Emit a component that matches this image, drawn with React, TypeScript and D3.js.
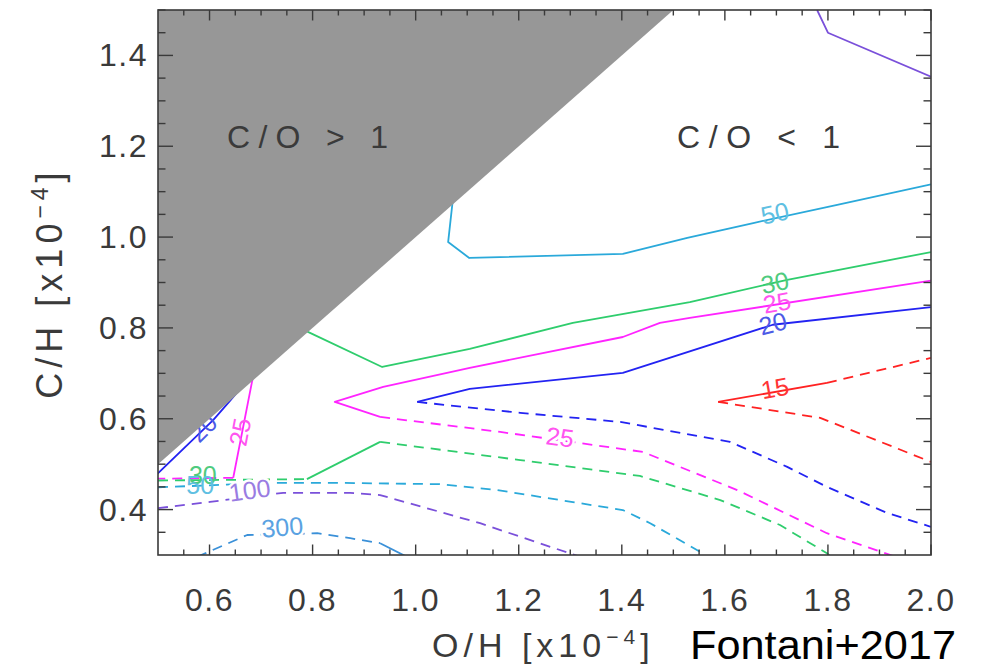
import React from "react";
import * as d3 from "d3";

type P = [number, number];

// ---- axes ----
const xDomain: P = [0.5, 2.0];
const yDomain: P = [0.3, 1.5];
const xTickValues = [0.6, 0.8, 1.0, 1.2, 1.4, 1.6, 1.8, 2.0];
const yTickValues = [0.4, 0.6, 0.8, 1.0, 1.2, 1.4];
const xTickLabels = ["0.6", "0.8", "1.0", "1.2", "1.4", "1.6", "1.8", "2.0"];
const yTickLabels = ["0.4", "0.6", "0.8", "1.0", "1.2", "1.4"];

// ---- C/O > 1 region (C/H > O/H) ----
const grayRegion: P[] = [[0.5, 0.5], [1.5, 1.5], [0.5, 1.5]];

// ---- contour lines (O/H, C/H) ----
const purple100Solid: P[] = [[1.779, 1.5], [1.8, 1.45], [2.0, 1.353]];
const cyan50Solid: P[] = [[1.075, 1.1], [1.071, 1.071], [1.063, 0.989], [1.104, 0.954], [1.402, 0.963], [1.527, 0.998], [1.655, 1.031], [1.818, 1.071], [2.0, 1.116]];
const green30Upper: P[] = [[0.775, 0.8], [0.795, 0.789], [0.935, 0.714], [1.105, 0.754], [1.305, 0.811], [1.532, 0.857], [1.721, 0.906], [2.0, 0.967]];
const magenta25Upper: P[] = [[0.931, 0.604], [0.843, 0.637], [0.937, 0.67], [1.105, 0.712], [1.402, 0.78], [1.474, 0.811], [1.532, 0.822], [2.0, 0.904]];
const blue20Right: P[] = [[1.003, 0.637], [1.105, 0.666], [1.402, 0.701], [1.693, 0.807], [2.0, 0.846]];
const blue20Left: P[] = [[0.498, 0.478], [0.607, 0.597], [0.64, 0.64], [0.7, 0.72]];
const magenta25LeftSolid: P[] = [[0.69, 0.72], [0.682, 0.679], [0.646, 0.47]];
const magenta25LeftDashed: P[] = [[0.646, 0.47], [0.5, 0.468]];
const green30LowerDashedLeft: P[] = [[0.5, 0.464], [0.789, 0.467]];
const green30LowerSolid: P[] = [[0.789, 0.467], [0.931, 0.549]];
const green30LowerDashedRight: P[] = [[0.931, 0.549], [1.203, 0.509], [1.435, 0.474], [1.591, 0.421], [1.707, 0.366], [1.798, 0.304], [1.806, 0.296]];
const magenta25Dashed: P[] = [[0.931, 0.604], [1.164, 0.571], [1.441, 0.527], [1.624, 0.443], [1.798, 0.348], [1.926, 0.298]];
const blue20Dashed: P[] = [[1.003, 0.637], [1.203, 0.613], [1.397, 0.593], [1.61, 0.549], [1.721, 0.494], [1.798, 0.45], [1.914, 0.393], [2.0, 0.362]];
const red15Solid: P[] = [[1.587, 0.637], [1.798, 0.679]];
const red15DashedUpper: P[] = [[1.798, 0.679], [2.0, 0.734]];
const red15DashedLower: P[] = [[1.587, 0.637], [1.785, 0.602], [2.0, 0.505]];
const cyan50Dashed: P[] = [[0.5, 0.449], [0.723, 0.459], [0.834, 0.459], [1.047, 0.456], [1.158, 0.443], [1.402, 0.399], [1.455, 0.37], [1.552, 0.307], [1.562, 0.296]];
const purple100Dashed: P[] = [[0.5, 0.403], [0.601, 0.417], [0.743, 0.437], [0.873, 0.437], [0.931, 0.432], [1.125, 0.37], [1.319, 0.296]];
const steel300Dashed: P[] = [[0.576, 0.296], [0.673, 0.344], [0.809, 0.348], [0.873, 0.337], [0.931, 0.326]];
const steel300Solid: P[] = [[0.931, 0.326], [0.983, 0.296]];

// ---- contour labels ----
const labelTexts = ["50", "30", "25", "20", "15", "25", "25", "20", "30", "50", "100", "300"];
const labelPositions: P[] = [[1.697, 1.053], [1.697, 0.9], [1.701, 0.856], [1.693, 0.81], [1.697, 0.668], [1.28, 0.56], [0.659, 0.571], [0.587, 0.58], [0.587, 0.476], [0.582, 0.454], [0.678, 0.443], [0.741, 0.362]];

const COL = {
  blue: "#2323f2",
  magenta: "#ff24ff",
  green: "#2fcd6d",
  cyan: "#2aa9da",
  purple: "#7a50da",
  steel: "#3a90d8",
  red: "#ff2222",
};
const LCOL = {
  blue: "#4d5ae6",
  magenta: "#ff55f0",
  green: "#4fcb7e",
  cyan: "#5fc0e2",
  purple: "#9a7ce2",
  steel: "#5aa2e2",
  red: "#ff3535",
};

const contours: { pts: P[]; color: string; dashed: boolean }[] = [
  { pts: purple100Solid, color: COL.purple, dashed: false },
  { pts: cyan50Solid, color: COL.cyan, dashed: false },
  { pts: green30Upper, color: COL.green, dashed: false },
  { pts: magenta25Upper, color: COL.magenta, dashed: false },
  { pts: blue20Right, color: COL.blue, dashed: false },
  { pts: blue20Left, color: COL.blue, dashed: false },
  { pts: magenta25LeftSolid, color: COL.magenta, dashed: false },
  { pts: magenta25LeftDashed, color: COL.magenta, dashed: true },
  { pts: green30LowerDashedLeft, color: COL.green, dashed: true },
  { pts: green30LowerSolid, color: COL.green, dashed: false },
  { pts: green30LowerDashedRight, color: COL.green, dashed: true },
  { pts: magenta25Dashed, color: COL.magenta, dashed: true },
  { pts: blue20Dashed, color: COL.blue, dashed: true },
  { pts: red15Solid, color: COL.red, dashed: false },
  { pts: red15DashedUpper, color: COL.red, dashed: true },
  { pts: red15DashedLower, color: COL.red, dashed: true },
  { pts: cyan50Dashed, color: COL.cyan, dashed: true },
  { pts: purple100Dashed, color: COL.purple, dashed: true },
  { pts: steel300Dashed, color: COL.steel, dashed: true },
  { pts: steel300Solid, color: COL.steel, dashed: false },
];

const labelStyles = [
  { color: LCOL.cyan, rot: -12, halo: false },
  { color: LCOL.green, rot: -12, halo: false },
  { color: LCOL.magenta, rot: -10, halo: false },
  { color: LCOL.blue, rot: -14, halo: false },
  { color: LCOL.red, rot: -10, halo: false },
  { color: LCOL.magenta, rot: 8, halo: true },
  { color: LCOL.magenta, rot: -79, halo: false },
  { color: LCOL.blue, rot: -45, halo: false },
  { color: LCOL.green, rot: 0, halo: false },
  { color: LCOL.cyan, rot: 0, halo: false },
  { color: LCOL.purple, rot: -8, halo: true },
  { color: LCOL.steel, rot: -5, halo: true },
];

const AX = "#3a3a3a";
const FONT = "'Liberation Sans', Arial, sans-serif";

export default function App() {
  const left = 158, right = 931, top = 10, bottom = 555;
  const x = d3.scaleLinear().domain(xDomain).range([left, right]);
  const y = d3.scaleLinear().domain(yDomain).range([bottom, top]);
  const line = d3.line<P>().x((d) => x(d[0])).y((d) => y(d[1]));

  const xMinor = d3.range(0.55, 2.0001, 0.05);
  const yMinor = d3.range(0.35, 1.5001, 0.05);
  const isMajor = (v: number) => Math.abs(v * 5 - Math.round(v * 5)) < 1e-6;

  return (
    <svg width={982} height={669} style={{ position: "absolute", left: 0, top: 0, background: "#fff" }}>
      <defs>
        <clipPath id="plotClip">
          <rect x={left} y={top} width={right - left} height={bottom - top} />
        </clipPath>
      </defs>
      <rect x={0} y={0} width={982} height={669} fill="#fff" />
      <g clipPath="url(#plotClip)">
        {contours.map((c, i) => (
          <path
            key={i}
            d={line(c.pts) || ""}
            fill="none"
            stroke={c.color}
            strokeWidth={1.8}
            strokeDasharray={c.dashed ? "10 7" : undefined}
            strokeLinejoin="round"
          />
        ))}
        {labelTexts.map((t, i) => {
          const [lx, ly] = labelPositions[i];
          const s = labelStyles[i];
          return (
            <text
              key={i}
              transform={`translate(${x(lx)},${y(ly)}) rotate(${s.rot})`}
              textAnchor="middle"
              dominantBaseline="central"
              fontFamily={FONT}
              fontSize={25}
              fill={s.color}
              stroke={s.halo ? "#fff" : "none"}
              strokeWidth={s.halo ? 5 : 0}
              paintOrder="stroke"
            >
              {t}
            </text>
          );
        })}
        <path d={(line(grayRegion) || "") + "Z"} fill="#979797" stroke="none" />
      </g>

      <text x={227} y={148} fontFamily={FONT} fontSize={32} fill={AX} textLength={161} lengthAdjust="spacing">
        C/O &gt; 1
      </text>
      <text x={677} y={148} fontFamily={FONT} fontSize={32} fill={AX} textLength={163} lengthAdjust="spacing">
        C/O &lt; 1
      </text>

      {/* frame */}
      <rect x={left} y={top} width={right - left} height={bottom - top} fill="none" stroke={AX} strokeWidth={1.6} />

      {/* x ticks */}
      {xMinor.map((v, i) => {
        const len = isMajor(v) ? 10.5 : 5.5;
        return (
          <g key={"xt" + i} stroke={AX} strokeWidth={1.4}>
            <line x1={x(v)} x2={x(v)} y1={bottom} y2={bottom - len} />
            <line x1={x(v)} x2={x(v)} y1={top} y2={top + len} />
          </g>
        );
      })}
      {/* y ticks */}
      {yMinor.map((v, i) => {
        const len = isMajor(v) ? 15 : 7.5;
        return (
          <g key={"yt" + i} stroke={AX} strokeWidth={1.4}>
            <line x1={left} x2={left + len} y1={y(v)} y2={y(v)} />
            <line x1={right} x2={right - len} y1={y(v)} y2={y(v)} />
          </g>
        );
      })}

      {xTickValues.map((v, i) => (
        <text key={"xl" + i} x={x(v)} y={611} textAnchor="middle" fontFamily={FONT} fontSize={32} fill={AX} letterSpacing={1.5}>
          {xTickLabels[i]}
        </text>
      ))}
      {yTickValues.map((v, i) => (
        <text key={"yl" + i} x={148} y={y(v)} textAnchor="end" dominantBaseline="central" fontFamily={FONT} fontSize={32} fill={AX} letterSpacing={1.5}>
          {yTickLabels[i]}
        </text>
      ))}

      {/* x title */}
      <text x={432} y={657} fontFamily={FONT} fontSize={34} fill={AX} letterSpacing={5}>
        O/H [x10
        <tspan dy={-13} fontSize={21}>−4</tspan>
        <tspan dy={13}>]</tspan>
      </text>
      {/* y title */}
      <text transform="translate(62,283) rotate(-90)" textAnchor="middle" fontFamily={FONT} fontSize={36} fill={AX} letterSpacing={5}>
        C/H [x10
        <tspan dy={-14} fontSize={23}>−4</tspan>
        <tspan dy={14}>]</tspan>
      </text>

      <text x={690} y={659} fontFamily={FONT} fontSize={40} fill="#000" textLength={266} lengthAdjust="spacingAndGlyphs">
        Fontani+2017
      </text>
    </svg>
  );
}
